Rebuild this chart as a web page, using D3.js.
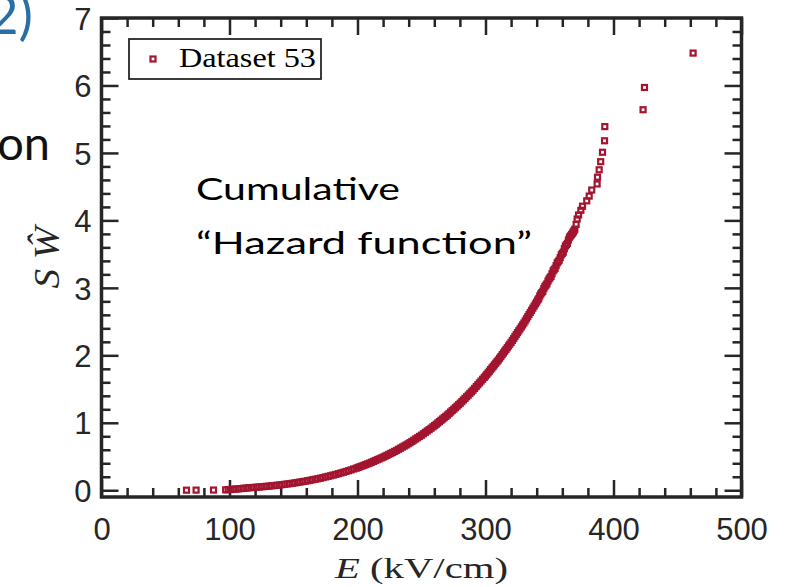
<!DOCTYPE html>
<html>
<head>
<meta charset="utf-8">
<script src="https://cdn.jsdelivr.net/npm/d3@7"></script>
<style>
  html, body { margin: 0; padding: 0; background: #ffffff; }
  svg { display: block; }
</style>
</head>
<body>
<svg id="chart" width="792" height="587"></svg>
<script>
// Breakdown field E (kV/cm) of each sample, in rank order
const fieldE = [
  66.4, 73.9, 87.5,
  97, 99, 101, 103, 105, 107, 109, 111, 113, 115, 117, 119, 121, 123, 125, 127, 129,
  131, 133, 135, 137, 139, 141, 143, 145, 147, 149, 151, 153, 155, 157, 159, 161, 163,
  165, 167, 169, 171, 173, 175, 177, 179, 181, 183, 185, 187, 189, 191, 193, 195, 197, 199,
  200.5, 202, 203.5, 205, 206.5, 208, 209.5, 211, 212.5, 214, 215.5, 217, 218.5, 220,
  221.5, 223, 224.5, 226, 227.5, 229, 230.5, 232, 233.5, 235, 236.5, 238, 239.5, 241,
  242.5, 244, 245.5, 247, 248.5, 250, 251.5, 253, 254.5, 256, 257.5, 259,
  260.25, 261.5, 262.75, 264, 265.25, 266.5, 267.75, 269, 270.25, 271.5, 272.75, 274,
  275.25, 276.5, 277.75, 279, 280.25, 281.5, 282.75, 284, 285.25, 286.5, 287.75, 289,
  290.25, 291.5, 292.75, 294, 295.25, 296.5, 297.75, 299,
  300, 301, 302, 303, 304, 305, 306, 307, 308, 309, 310, 311, 312, 313, 314, 315, 316,
  317, 318, 319, 320, 321, 322, 323, 324, 325, 326, 327, 328, 329, 330, 331, 332, 333,
  334, 335, 336, 337, 338, 339,
  340.0, 340.8, 341.6, 342.4, 343.2, 344.0, 344.8, 345.6, 346.4, 347.2, 348.0, 348.8,
  349.6, 350.4, 351.2, 352.0, 352.8, 353.6, 354.4, 355.2, 356.0, 356.8, 357.6, 358.4,
  359.2, 360.0, 360.8, 361.6, 362.4, 363.2, 364.0, 364.8, 365.6, 366.4, 367.2,
  368.0, 368.6, 369.2, 369.8, 370.8, 371.6, 372.7, 374.5, 375.8, 379.1, 381.0, 383.0,
  387.2, 387.5, 388.8, 390.0, 391.4, 393.0, 393.2, 423.1, 424.2, 462.2
];

// Estimated cumulative hazard S·Ŵ at each breakdown field
const hazardSW = [
  0.001, 0.002, 0.003,
  0.006, 0.009, 0.012, 0.015, 0.018, 0.021, 0.025, 0.029, 0.033, 0.036, 0.039, 0.042, 0.045, 0.048, 0.051, 0.055, 0.058,
  0.062, 0.066, 0.070, 0.074, 0.078, 0.083, 0.088, 0.093, 0.098, 0.103, 0.109, 0.115, 0.121, 0.128, 0.134, 0.141, 0.148,
  0.156, 0.163, 0.171, 0.179, 0.188, 0.197, 0.206, 0.215, 0.225, 0.235, 0.245, 0.256, 0.267, 0.278, 0.290, 0.302, 0.315, 0.327,
  0.338, 0.349, 0.359, 0.370, 0.381, 0.392, 0.403, 0.415, 0.428, 0.440, 0.453, 0.465, 0.478, 0.490,
  0.504, 0.518, 0.533, 0.547, 0.561, 0.576, 0.590, 0.607, 0.623, 0.639, 0.655, 0.671, 0.688, 0.705,
  0.724, 0.742, 0.761, 0.779, 0.798, 0.816, 0.837, 0.858, 0.879, 0.899, 0.920, 0.941,
  0.959, 0.978, 0.998, 1.017, 1.037, 1.056, 1.076, 1.095, 1.115, 1.137, 1.159, 1.181,
  1.202, 1.224, 1.246, 1.268, 1.290, 1.314, 1.338, 1.362, 1.386, 1.410, 1.435, 1.459,
  1.483, 1.510, 1.537, 1.564, 1.591, 1.618, 1.645, 1.672,
  1.693, 1.717, 1.740, 1.764, 1.788, 1.812, 1.835, 1.859, 1.883, 1.906, 1.930, 1.956, 1.982, 2.009, 2.035, 2.061, 2.087,
  2.113, 2.140, 2.166, 2.192, 2.221, 2.249, 2.278, 2.307, 2.336, 2.364, 2.393, 2.422, 2.450, 2.479, 2.510, 2.542, 2.573,
  2.605, 2.636, 2.667, 2.699, 2.730, 2.762,
  2.79, 2.82, 2.84, 2.88, 2.91, 2.93, 2.95, 2.99, 3.02, 3.04, 3.06, 3.10,
  3.13, 3.15, 3.17, 3.21, 3.25, 3.27, 3.29, 3.33, 3.37, 3.39, 3.41, 3.45,
  3.49, 3.51, 3.53, 3.58, 3.62, 3.64, 3.66, 3.71, 3.75, 3.77, 3.79,
  3.81, 3.83, 3.85, 3.87, 3.94, 4.02, 4.08, 4.15, 4.21, 4.29, 4.36, 4.45,
  4.54, 4.64, 4.75, 4.87, 5.01, 5.18, 5.39, 5.64, 5.97, 6.48
];

const seriesName = "Dataset 53";
const xDomain = [0, 500];
const yDomain = [-0.1, 7];
const xTickValues = [0, 100, 200, 300, 400, 500];
const yTickValues = [0, 1, 2, 3, 4, 5, 6, 7];
const annotationLines = ["Cumulative", "\u201CHazard function\u201D"];

const axisColor = "#262626";
const markColor = "#A2142F";

const svg = d3.select("#chart");
svg.append("rect").attr("width", 792).attr("height", 587).attr("fill", "#ffffff");

const plot = { left: 101.5, right: 741.5, top: 18, bottom: 497 };
const x = d3.scaleLinear().domain(xDomain).range([plot.left, plot.right]);
const y = d3.scaleLinear().domain(yDomain).range([plot.bottom, plot.top]);

// Fragments of the surrounding slide text
svg.append("text")
  .attr("x", 33).attr("y", 34)
  .attr("text-anchor", "end")
  .attr("font-family", "Lato, 'Open Sans', sans-serif")
  .attr("font-size", 54)
  .attr("fill", "#2A6EA6")
  .text("2)");
svg.append("text")
  .attr("x", 50).attr("y", 160)
  .attr("text-anchor", "end")
  .attr("font-family", "Lato, 'Open Sans', sans-serif")
  .attr("font-size", 47)
  .attr("fill", "#111111")
  .text("on");

const major = 17, minor = 9;
const tickFont = "'Liberation Sans', Arial, Helvetica, sans-serif";

function styleAxis(g, withLabels) {
  g.select(".domain").remove();
  g.selectAll(".tick line").attr("stroke", axisColor).attr("stroke-width", 2.5);
  g.selectAll(".tick text")
    .attr("fill", axisColor)
    .attr("font-family", tickFont)
    .attr("font-size", 31);
  if (!withLabels) g.selectAll(".tick text").remove();
}

const xMinor = x.ticks(25).filter(v => !xTickValues.includes(v));
const yMinor = y.ticks(36).filter(v => v >= 0 && !yTickValues.includes(v));

// Bottom axis
svg.append("g").attr("transform", `translate(0,${plot.bottom})`)
  .call(d3.axisBottom(x).tickValues(xTickValues).tickSize(-major).tickSizeOuter(0).tickPadding(21))
  .call(g => styleAxis(g, true))
  .call(g => g.selectAll(".tick text").attr("dy", "0.71em").attr("y", 21));
svg.append("g").attr("transform", `translate(0,${plot.bottom})`)
  .call(d3.axisBottom(x).tickValues(xMinor).tickSize(-minor).tickSizeOuter(0).tickFormat(""))
  .call(g => styleAxis(g, false));
// Top axis
svg.append("g").attr("transform", `translate(0,${plot.top})`)
  .call(d3.axisTop(x).tickValues(xTickValues).tickSize(-major).tickSizeOuter(0).tickFormat(""))
  .call(g => styleAxis(g, false));
svg.append("g").attr("transform", `translate(0,${plot.top})`)
  .call(d3.axisTop(x).tickValues(xMinor).tickSize(-minor).tickSizeOuter(0).tickFormat(""))
  .call(g => styleAxis(g, false));
// Left axis
svg.append("g").attr("transform", `translate(${plot.left},0)`)
  .call(d3.axisLeft(y).tickValues(yTickValues).tickSize(-major).tickSizeOuter(0).tickPadding(10))
  .call(g => styleAxis(g, true))
  .call(g => g.selectAll(".tick text").attr("dy", "0.36em"));
svg.append("g").attr("transform", `translate(${plot.left},0)`)
  .call(d3.axisLeft(y).tickValues(yMinor).tickSize(-minor).tickSizeOuter(0).tickFormat(""))
  .call(g => styleAxis(g, false));
// Right axis
svg.append("g").attr("transform", `translate(${plot.right},0)`)
  .call(d3.axisRight(y).tickValues(yTickValues).tickSize(-major).tickSizeOuter(0).tickFormat(""))
  .call(g => styleAxis(g, false));
svg.append("g").attr("transform", `translate(${plot.right},0)`)
  .call(d3.axisRight(y).tickValues(yMinor).tickSize(-minor).tickSizeOuter(0).tickFormat(""))
  .call(g => styleAxis(g, false));

// Axes box
svg.append("rect")
  .attr("x", plot.left).attr("y", plot.top)
  .attr("width", plot.right - plot.left).attr("height", plot.bottom - plot.top)
  .attr("fill", "none").attr("stroke", axisColor).attr("stroke-width", 3.5);

// Data markers: open squares
const pts = fieldE.map((e, i) => ({ e, s: hazardSW[i] }));
const ms = 5;
svg.append("g")
  .selectAll("rect")
  .data(pts)
  .join("rect")
  .attr("x", d => x(d.e) - ms / 2)
  .attr("y", d => y(d.s) - ms / 2)
  .attr("width", ms).attr("height", ms)
  .attr("fill", "none")
  .attr("stroke", markColor)
  .attr("stroke-width", 2.2);

// Legend
const legend = svg.append("g");
legend.append("rect")
  .attr("x", 129).attr("y", 39).attr("width", 192).attr("height", 40)
  .attr("fill", "#ffffff").attr("stroke", axisColor).attr("stroke-width", 1.8);
legend.append("rect")
  .attr("x", 153 - ms / 2).attr("y", 59 - ms / 2).attr("width", ms).attr("height", ms)
  .attr("fill", "none").attr("stroke", markColor).attr("stroke-width", 2.2);
legend.append("text")
  .attr("x", 179).attr("y", 66.5)
  .attr("font-family", "'Liberation Serif', 'Times New Roman', serif")
  .attr("font-size", 27)
  .attr("fill", "#000000")
  .attr("textLength", 137).attr("lengthAdjust", "spacingAndGlyphs")
  .text(seriesName);

// Annotation
annotationLines.forEach((line, i) => {
  svg.append("text")
    .attr("x", 196).attr("y", i === 0 ? 200 : 254)
    .attr("font-family", "Lato, 'Open Sans', sans-serif")
    .attr("font-size", 31)
    .attr("fill", "#000000")
    .attr("textLength", i === 0 ? 204 : 336).attr("lengthAdjust", "spacingAndGlyphs")
    .text(line);
});

// Axis titles
const xt = svg.append("text")
  .attr("x", (plot.left + plot.right) / 2).attr("y", 578)
  .attr("text-anchor", "middle")
  .attr("font-family", "'Liberation Serif', 'Times New Roman', serif")
  .attr("font-size", 30)
  .attr("fill", axisColor)
  .attr("textLength", 173).attr("lengthAdjust", "spacingAndGlyphs");
xt.append("tspan").attr("font-style", "italic").text("E");
xt.append("tspan").text(" (kV/cm)");

svg.append("text")
  .attr("transform", `translate(59,${(plot.top + plot.bottom) / 2}) rotate(-90)`)
  .attr("text-anchor", "middle")
  .attr("font-family", "'Liberation Serif', 'Times New Roman', serif")
  .attr("font-style", "italic")
  .attr("font-size", 36)
  .attr("fill", axisColor)
  .attr("textLength", 62).attr("lengthAdjust", "spacingAndGlyphs")
  .text("S \u0174");
</script>
</body>
</html>
